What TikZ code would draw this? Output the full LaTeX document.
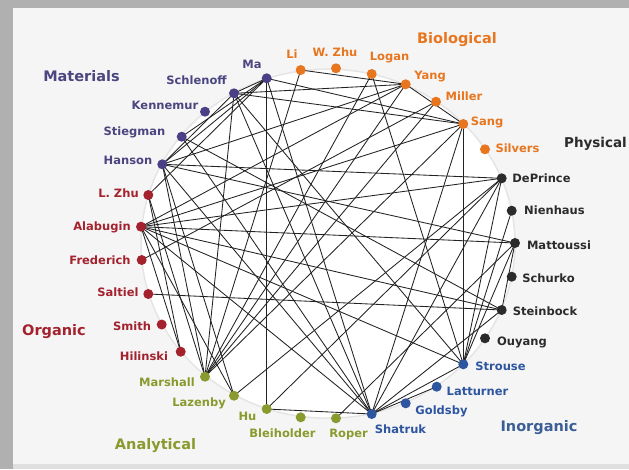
\documentclass[tikz,border=0pt]{standalone}
\usepackage{fontspec}
\setmainfont{DejaVu Sans}
\pgfdeclarelayer{bg}
\pgfdeclarelayer{edgelayer}
\pgfsetlayers{bg,edgelayer,main}
\definecolor{matc}{HTML}{4B3F86}
\definecolor{orgc}{HTML}{A3222E}
\definecolor{anac}{HTML}{8A9A2E}
\definecolor{inoc}{HTML}{2E55A0}
\definecolor{phyc}{HTML}{2B2B2B}
\definecolor{bioc}{HTML}{E8761E}
\definecolor{matt}{HTML}{4B4580}
\definecolor{inot}{HTML}{3C5E96}
\definecolor{edgec}{HTML}{222222}
\tikzset{
  dot/.style={circle, inner sep=0pt, minimum size=10pt},
  matd/.style={dot, fill=matc},
  orgd/.style={dot, fill=orgc},
  anad/.style={dot, fill=anac},
  inod/.style={dot, fill=inoc},
  phyd/.style={dot, fill=phyc},
  biod/.style={dot, fill=bioc},
  lbl/.style={inner sep=0pt, font=\bfseries\fontsize{11.5}{12}\selectfont},
  grp/.style={inner sep=0pt, font=\bfseries\fontsize{14.5}{16}\selectfont},
  edge/.style={draw=edgec, line width=0.85pt}
}
\begin{document}
\begin{tikzpicture}[x=1pt,y=-1pt]
\useasboundingbox (0,0) rectangle (629,469);
\begin{pgfonlayer}{bg}
\fill[gray!62] (0,0) rectangle (629,469);
\fill[gray!25] (13,8) rectangle (629,469);
\fill[black!4] (13,8) rectangle (629,464);
\fill[white, draw=gray!20, line width=1.5pt] (328,243.7) ellipse [x radius=187, y radius=174.5];
\end{pgfonlayer}
% Materials
\node[matd] (ma) at (266.7,78.3) {};
\node[matd] (schlenoff) at (234,93.3) {};
\node[matd] (kennemur) at (205,111.7) {};
\node[matd] (stiegman) at (181.7,136.7) {};
\node[matd] (hanson) at (162.3,164.3) {};
% Organic
\node[orgd] (lzhu) at (148.3,195) {};
\node[orgd] (alabugin) at (141,226.7) {};
\node[orgd] (frederich) at (141.7,260) {};
\node[orgd] (saltiel) at (148.3,294) {};
\node[orgd] (smith) at (161.7,324.5) {};
\node[orgd] (hilinski) at (180.7,351.7) {};
% Analytical
\node[anad] (marshall) at (205,376.7) {};
\node[anad] (lazenby) at (234,395.7) {};
\node[anad] (hu) at (266.7,409) {};
\node[anad] (bleiholder) at (300.7,417.3) {};
\node[anad] (roper) at (336,418.3) {};
% Inorganic
\node[inod] (shatruk) at (371.7,414) {};
\node[inod] (goldsby) at (405.7,403.3) {};
\node[inod] (latturner) at (436.7,386.7) {};
\node[inod] (strouse) at (463.3,364.3) {};
% Physical
\node[phyd] (ouyang) at (485,338.3) {};
\node[phyd] (steinbock) at (501.7,310) {};
\node[phyd] (schurko) at (511.7,276.7) {};
\node[phyd] (mattoussi) at (515,243) {};
\node[phyd] (nienhaus) at (511.7,210.7) {};
\node[phyd] (deprince) at (501.7,178.3) {};
% Biological
\node[biod] (silvers) at (485,149.3) {};
\node[biod] (sang) at (463.3,124) {};
\node[biod] (miller) at (436,101.7) {};
\node[biod] (yang) at (405.7,84.3) {};
\node[biod] (logan) at (371.7,74) {};
\node[biod] (wzhu) at (336,68.3) {};
\node[biod] (li) at (300.7,70) {};
% edges
\begin{pgfonlayer}{edgelayer}
\foreach \a/\b in {ma/schlenoff, ma/hu, ma/hanson, ma/sang, ma/shatruk, ma/lzhu,
  schlenoff/yang, schlenoff/sang, schlenoff/hanson, schlenoff/shatruk, schlenoff/strouse, schlenoff/marshall,
  stiegman/ma, stiegman/steinbock, stiegman/shatruk,
  hanson/deprince, hanson/mattoussi, hanson/yang, hanson/marshall, hanson/shatruk, hanson/lazenby,
  lzhu/hilinski, lzhu/marshall,
  alabugin/sang, alabugin/deprince, alabugin/mattoussi, alabugin/steinbock, alabugin/strouse, alabugin/shatruk, alabugin/hilinski, alabugin/lazenby, alabugin/yang,
  frederich/miller, saltiel/steinbock,
  marshall/li, marshall/logan, marshall/yang, marshall/miller, marshall/sang,
  lazenby/deprince, hu/shatruk, hu/deprince, roper/mattoussi,
  shatruk/strouse, shatruk/latturner, shatruk/steinbock, shatruk/deprince, shatruk/sang,
  strouse/sang, strouse/logan, strouse/nienhaus, strouse/deprince, strouse/mattoussi,
  mattoussi/steinbock, yang/li, yang/sang}
  \draw[edge] (\a.center) -- (\b.center);
\end{pgfonlayer}
% name labels
\node[lbl, text=matt] (lma) at (252,64) {Ma};
\node[lbl, text=matt] (lschlenoff) at (196.5,80.5) {Schlenoff};
\node[lbl, text=matt] (lkennemur) at (165,105) {Kennemur};
\node[lbl, text=matt] (lstiegman) at (134.5,132) {Stiegman};
\node[lbl, text=matt] (lhanson) at (128,160.5) {Hanson};
\node[lbl, text=orgc] (llzhu) at (118.5,193) {L. Zhu};
\node[lbl, text=orgc] (lalabugin) at (102,227.5) {Alabugin};
\node[lbl, text=orgc] (lfrederich) at (100,260) {Frederich};
\node[lbl, text=orgc] (lsaltiel) at (118,292.5) {Saltiel};
\node[lbl, text=orgc] (lsmith) at (132,326) {Smith};
\node[lbl, text=orgc] (lhilinski) at (144,356) {Hilinski};
\node[lbl, text=anac] (lmarshall) at (167,382.5) {Marshall};
\node[lbl, text=anac] (llazenby) at (199,403) {Lazenby};
\node[lbl, text=anac] (lhu) at (247.5,416.5) {Hu};
\node[lbl, text=anac] (lbleiholder) at (282.5,433.5) {Bleiholder};
\node[lbl, text=anac] (lroper) at (348.5,434) {Roper};
\node[lbl, text=inoc] (lshatruk) at (400.5,429) {Shatruk};
\node[lbl, text=inoc] (lgoldsby) at (441.5,411) {Goldsby};
\node[lbl, text=inoc] (llatturner) at (477.5,391) {Latturner};
\node[lbl, text=inoc] (lstrouse) at (500.5,366) {Strouse};
\node[lbl, text=phyc] (louyang) at (522,342) {Ouyang};
\node[lbl, text=phyc] (lsteinbock) at (545,311) {Steinbock};
\node[lbl, text=phyc] (lschurko) at (548.5,278) {Schurko};
\node[lbl, text=phyc] (lmattoussi) at (559,245) {Mattoussi};
\node[lbl, text=phyc] (lnienhaus) at (554.5,210) {Nienhaus};
\node[lbl, text=phyc] (ldeprince) at (541.5,178) {DePrince};
\node[lbl, text=bioc] (lsilvers) at (517.5,148) {Silvers};
\node[lbl, text=bioc] (lsang) at (487,122.5) {Sang};
\node[lbl, text=bioc] (lmiller) at (464,96.5) {Miller};
\node[lbl, text=bioc] (lyang) at (430,76.5) {Yang};
\node[lbl, text=bioc] (llogan) at (389.5,58) {Logan};
\node[lbl, text=bioc] (lwzhu) at (335,52) {W. Zhu};
\node[lbl, text=bioc] (lli) at (292,54.5) {Li};
% group labels
\node[grp, text=matt] (gmat) at (81.5,76.5) {Materials};
\node[grp, text=bioc] (gbio) at (457,40) {Biological};
\node[grp, text=phyc, font=\bfseries\fontsize{13.5}{15}\selectfont] (gphy) at (595.5,144) {Physical};
\node[grp, text=orgc] (gorg) at (54,332) {Organic};
\node[grp, text=anac] (gana) at (155.5,445.5) {Analytical};
\node[grp, text=inot] (gino) at (539,428) {Inorganic};
\end{tikzpicture}
\end{document}
